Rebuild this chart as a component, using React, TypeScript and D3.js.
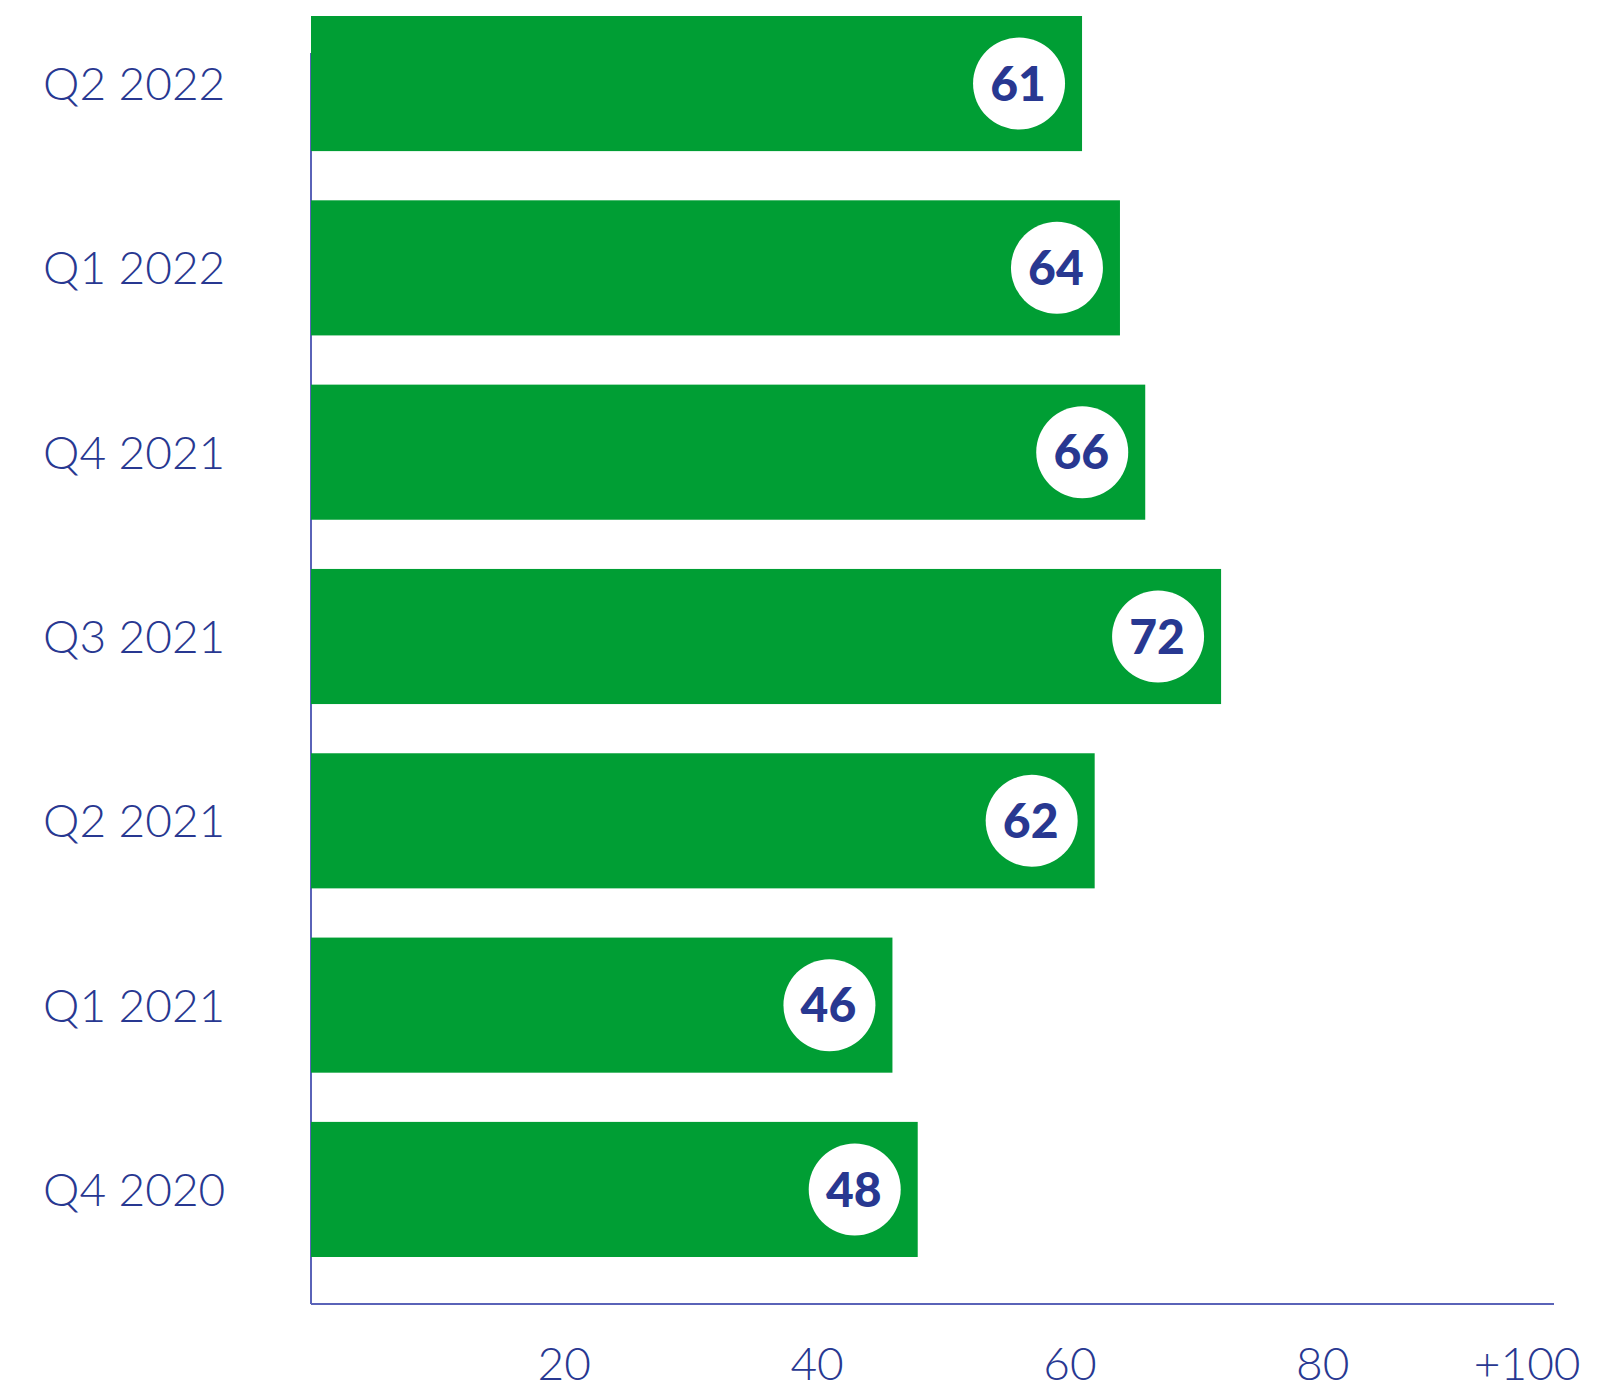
import { useEffect, useRef } from "react";
import * as d3 from "d3";

const WIDTH = 1597;
const HEIGHT = 1389;

const categories = ["Q2 2022", "Q1 2022", "Q4 2021", "Q3 2021", "Q2 2021", "Q1 2021", "Q4 2020"];
const values = [61, 64, 66, 72, 62, 46, 48];
const tickValues = [20, 40, 60, 80, 100];
const tickLabels = ["20", "40", "60", "80", "+100"];

const GREEN = "#009e34";
const NAVY = "#283891";
const AXIS = "#5a63b8";
const FONT = "Lato, 'Open Sans', sans-serif";

export default function App() {
    const axisRef = useRef<SVGGElement>(null);

    const xScale = d3.scaleLinear().domain([0, 100]).range([311, 1575]);
    const yScale = d3
        .scaleBand<string>()
        .domain(categories)
        .range([16, 1257])
        .paddingInner(0.267)
        .paddingOuter(0);

    const axisY = 1304;

    useEffect(() => {
        document.body.style.margin = "0";
        const g = d3.select(axisRef.current);
        g.selectAll("*").remove();
        const axis = d3
            .axisBottom(xScale)
            .tickValues(tickValues)
            .tickSize(0)
            .tickPadding(0)
            .tickFormat((d, i) => tickLabels[i]);
        g.call(axis);
        g.select(".domain").remove();
        g.selectAll("text")
            .attr("y", 76)
            .attr("dy", 0)
            .attr("font-family", FONT)
            .attr("font-weight", 300)
            .attr("font-size", 46)
            .attr("fill", NAVY);
        g.selectAll<SVGTextElement, number>("text")
            .filter((d) => d === 100)
            .attr("text-anchor", "end")
            .attr("x", 5);
    }, []);

    return (
        <svg width={WIDTH} height={HEIGHT} style={{ display: "block" }}>
            <rect width={WIDTH} height={HEIGHT} fill="#fff" />
            {/* axis lines */}
            <line x1={xScale(0)} x2={xScale(0)} y1={53} y2={axisY} stroke={AXIS} strokeWidth={2} />
            <line x1={xScale(0)} x2={1554} y1={axisY} y2={axisY} stroke={AXIS} strokeWidth={2} />
            <g ref={axisRef} transform={`translate(0,${axisY})`} />
            {categories.map((c, i) => {
                const y = yScale(c) as number;
                const bw = yScale.bandwidth();
                const cy = y + bw / 2;
                const x1 = xScale(values[i]);
                return (
                    <g key={c}>
                        <rect x={xScale(0)} y={y} width={x1 - xScale(0)} height={bw} fill={GREEN} />
                        <text
                            x={43}
                            y={cy}
                            dy="0.36em"
                            fontFamily={FONT}
                            fontWeight={300}
                            fontSize={46}
                            fill={NAVY}
                        >
                            {c}
                        </text>
                        <circle cx={x1 - 63} cy={cy} r={46} fill="#fff" />
                        <text
                            x={x1 - 64}
                            y={cy}
                            dy="0.36em"
                            textAnchor="middle"
                            fontFamily={FONT}
                            fontWeight={900}
                            fontSize={48}
                            fill={NAVY}
                        >
                            {values[i]}
                        </text>
                    </g>
                );
            })}
        </svg>
    );
}
